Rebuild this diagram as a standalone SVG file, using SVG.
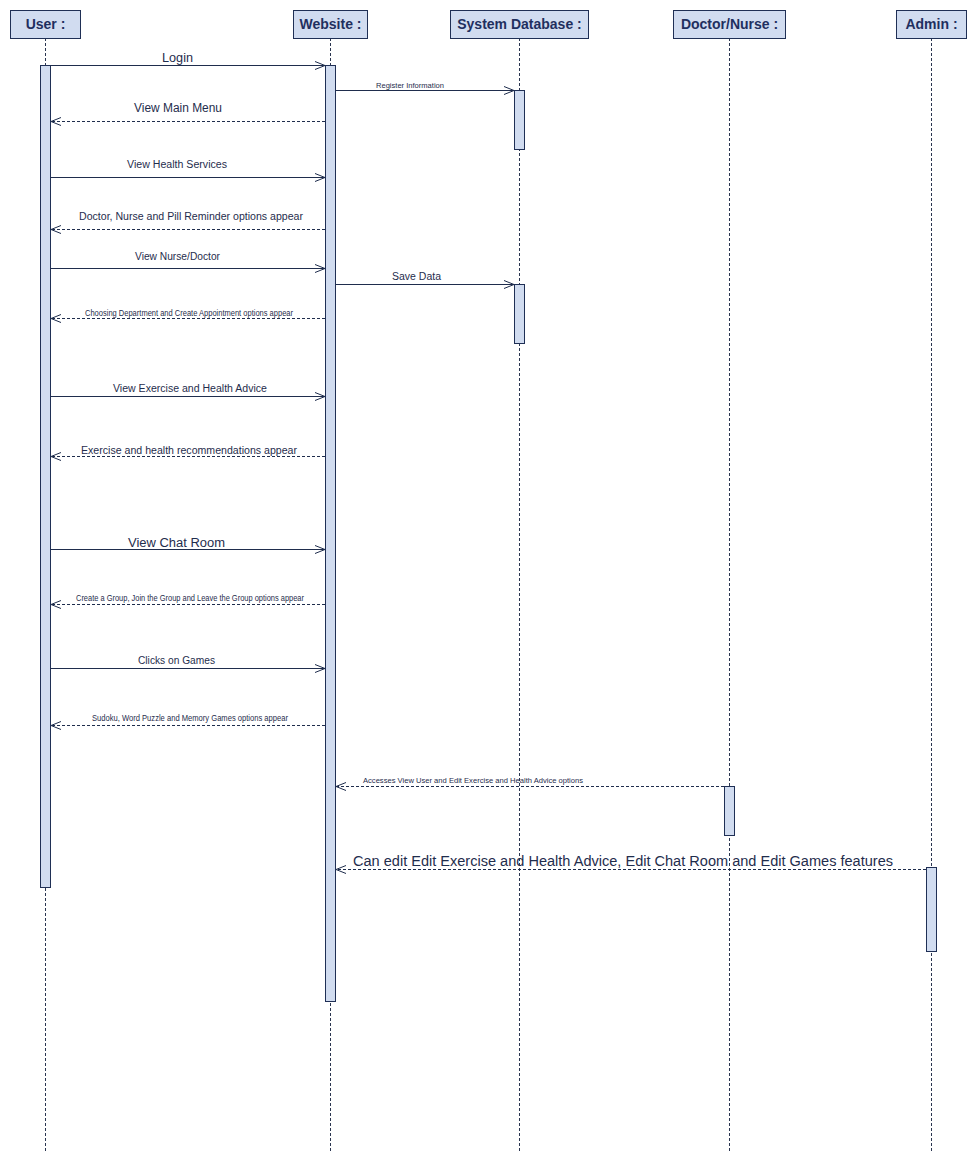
<svg xmlns="http://www.w3.org/2000/svg" width="977" height="1163" viewBox="0 0 977 1163">
  <style>
    .head { fill: #d1dcf0; stroke: #1f2f55; stroke-width: 1; }
    .htxt { font-family: "Liberation Sans", Arial, sans-serif; font-weight: bold; font-size: 14px; fill: #1f2f5f; text-anchor: middle; }
    .life { stroke: #2a3550; stroke-width: 1; stroke-dasharray: 3,2; fill: none; }
    .act { fill: #d1dcf0; stroke: #1f2f55; stroke-width: 1; }
    .msg { stroke: #1f2d4d; stroke-width: 1; fill: none; marker-end: url(#open); }
    .ret { stroke: #1f2d4d; stroke-width: 1; fill: none; stroke-dasharray: 3,2; marker-end: url(#open); }
    .lbl { font-family: "Liberation Sans", Arial, sans-serif; fill: #1f2d4d; text-anchor: start; }
  </style>
  <defs>
    <marker id="open" viewBox="0 0 10 10" refX="10" refY="5" markerWidth="10" markerHeight="10" markerUnits="userSpaceOnUse" orient="auto">
      <path d="M0,1 L10,5 L0,9" fill="none" stroke="#1f2d4d" stroke-width="1"/>
    </marker>
  </defs>
  <rect width="977" height="1163" fill="#ffffff"/>

  <!-- lifelines -->
  <g id="lifelines">
    <line class="life" x1="45.5" y1="38" x2="45.5" y2="1153"/>
    <line class="life" x1="330.5" y1="38" x2="330.5" y2="1153"/>
    <line class="life" x1="519.5" y1="38" x2="519.5" y2="1153"/>
    <line class="life" x1="729.5" y1="38" x2="729.5" y2="1153"/>
    <line class="life" x1="931.5" y1="38" x2="931.5" y2="1153"/>
  </g>

  <!-- participants -->
  <g id="user">
    <rect class="head" x="10.5" y="10.5" width="70" height="28"/>
    <text class="htxt" x="45.5" y="29">User :</text>
    <rect class="act" x="40.5" y="65.5" width="10" height="822"/>
  </g>
  <g id="website">
    <rect class="head" x="293.5" y="10.5" width="74" height="28"/>
    <text class="htxt" x="330.5" y="29">Website :</text>
    <rect class="act" x="325.5" y="65.5" width="10" height="936"/>
  </g>
  <g id="database">
    <rect class="head" x="450.5" y="10.5" width="138" height="28"/>
    <text class="htxt" x="519.5" y="29">System Database :</text>
    <rect class="act" x="514.5" y="90.5" width="10" height="59"/>
    <rect class="act" x="514.5" y="284.5" width="10" height="59"/>
  </g>
  <g id="doctor">
    <rect class="head" x="673.5" y="10.5" width="112" height="28"/>
    <text class="htxt" x="729.5" y="29">Doctor/Nurse :</text>
    <rect class="act" x="724.5" y="786.5" width="10" height="49"/>
  </g>
  <g id="admin">
    <rect class="head" x="896.5" y="10.5" width="70" height="28"/>
    <text class="htxt" x="931.5" y="29">Admin :</text>
    <rect class="act" x="926.5" y="867.5" width="10" height="84"/>
  </g>

  <!-- messages -->
  <g id="connectors">
    <line class="msg" x1="50.5" y1="65.5" x2="325" y2="65.5"/>
    <text class="lbl" x="162" y="62" font-size="12" textLength="31" lengthAdjust="spacingAndGlyphs">Login</text>

    <line class="msg" x1="335.5" y1="90.5" x2="514" y2="90.5"/>
    <text class="lbl" x="376" y="88" font-size="8" textLength="68" lengthAdjust="spacingAndGlyphs">Register Information</text>

    <line class="ret" x1="325" y1="121.5" x2="51" y2="121.5"/>
    <text class="lbl" x="134" y="112" font-size="12" textLength="88" lengthAdjust="spacingAndGlyphs">View Main Menu</text>

    <line class="msg" x1="50.5" y1="177.5" x2="325" y2="177.5"/>
    <text class="lbl" x="127" y="168" font-size="10" textLength="100" lengthAdjust="spacingAndGlyphs">View Health Services</text>

    <line class="ret" x1="325" y1="229.5" x2="51" y2="229.5"/>
    <text class="lbl" x="79" y="220" font-size="10" textLength="224" lengthAdjust="spacingAndGlyphs">Doctor, Nurse and Pill Reminder options appear</text>

    <line class="msg" x1="50.5" y1="268.5" x2="325" y2="268.5"/>
    <text class="lbl" x="135" y="260" font-size="10" textLength="85" lengthAdjust="spacingAndGlyphs">View Nurse/Doctor</text>

    <line class="msg" x1="335.5" y1="284.5" x2="514" y2="284.5"/>
    <text class="lbl" x="392" y="280" font-size="10" textLength="49" lengthAdjust="spacingAndGlyphs">Save Data</text>

    <line class="ret" x1="325" y1="318.5" x2="51" y2="318.5"/>
    <text class="lbl" x="85" y="316" font-size="9" textLength="208" lengthAdjust="spacingAndGlyphs">Choosing Department and Create Appointment options appear</text>

    <line class="msg" x1="50.5" y1="396.5" x2="325" y2="396.5"/>
    <text class="lbl" x="113" y="392" font-size="10" textLength="154" lengthAdjust="spacingAndGlyphs">View Exercise and Health Advice</text>

    <line class="ret" x1="325" y1="456.5" x2="51" y2="456.5"/>
    <text class="lbl" x="81" y="454" font-size="10" textLength="216" lengthAdjust="spacingAndGlyphs">Exercise and health recommendations appear</text>

    <line class="msg" x1="50.5" y1="549.5" x2="325" y2="549.5"/>
    <text class="lbl" x="128" y="547" font-size="12" textLength="97" lengthAdjust="spacingAndGlyphs">View Chat Room</text>

    <line class="ret" x1="325" y1="604.5" x2="51" y2="604.5"/>
    <text class="lbl" x="76" y="601" font-size="9" textLength="228" lengthAdjust="spacingAndGlyphs">Create a Group, Join the Group and Leave the Group options appear</text>

    <line class="msg" x1="50.5" y1="668.5" x2="325" y2="668.5"/>
    <text class="lbl" x="138" y="664" font-size="10" textLength="77" lengthAdjust="spacingAndGlyphs">Clicks on Games</text>

    <line class="ret" x1="325" y1="725.5" x2="51" y2="725.5"/>
    <text class="lbl" x="92" y="721" font-size="9" textLength="196" lengthAdjust="spacingAndGlyphs">Sudoku, Word Puzzle and Memory Games options appear</text>

    <line class="ret" x1="724" y1="786.5" x2="336" y2="786.5"/>
    <text class="lbl" x="363" y="783" font-size="8" textLength="220" lengthAdjust="spacingAndGlyphs">Accesses View User and Edit Exercise and Health Advice options</text>

    <line class="ret" x1="926" y1="869.5" x2="336" y2="869.5"/>
    <text class="lbl" x="353" y="866" font-size="14" textLength="540" lengthAdjust="spacingAndGlyphs">Can edit Edit Exercise and Health Advice, Edit Chat Room and Edit Games features</text>
  </g>
</svg>
